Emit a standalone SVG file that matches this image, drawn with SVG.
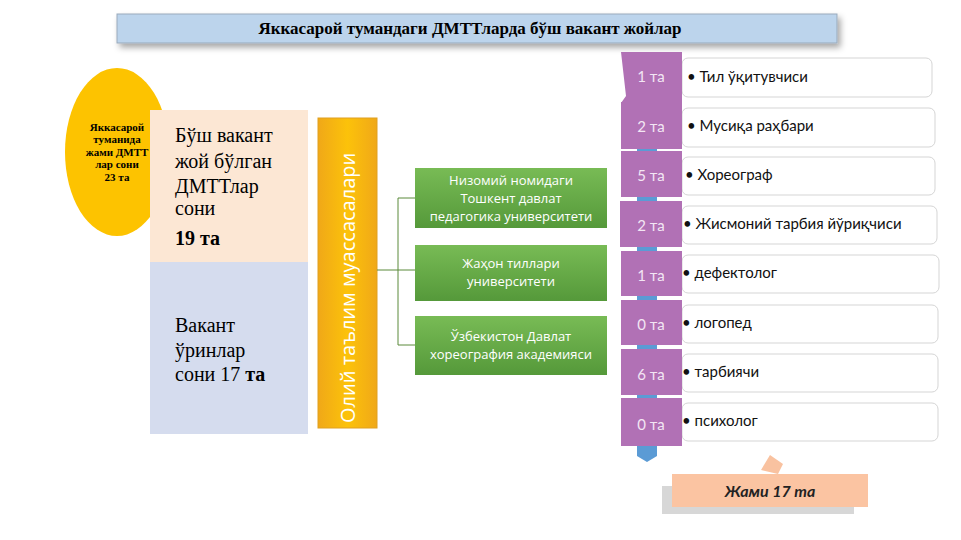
<svg xmlns="http://www.w3.org/2000/svg" width="961" height="540" viewBox="0 0 961 540">
<style>
.c{font-family:"Liberation Serif",serif}
.s{font-family:"Open Sans","Noto Sans",sans-serif}
.pur{fill:#b171b5}
.num{font-family:"Lato","Noto Sans",sans-serif;font-size:15px;fill:#f3e6f4;text-anchor:middle}
.box{fill:#fff;stroke:#d5d5d5;stroke-width:1}
.lbl{font-family:"Lato","Noto Sans",sans-serif;font-size:15px;fill:#111}
.g{fill:#63a744}
.gt{font-family:"Open Sans","Noto Sans",sans-serif;font-size:13px;fill:#fff;text-anchor:middle}
</style>
<defs>
<filter id="sh" x="-10%" y="-20%" width="120%" height="160%"><feDropShadow dx="3" dy="4" stdDeviation="3" flood-color="#000" flood-opacity="0.35"/></filter>
<linearGradient id="ob" x1="0" y1="0" x2="1" y2="0"><stop offset="0" stop-color="#f0a818"/><stop offset="0.5" stop-color="#fcc20a"/><stop offset="1" stop-color="#f0a818"/></linearGradient>
<linearGradient id="gr" x1="0" y1="0" x2="0" y2="1"><stop offset="0" stop-color="#78bb55"/><stop offset="1" stop-color="#55993a"/></linearGradient>
</defs>
<rect width="961" height="540" fill="#fff"/>
<g id="title"><rect x="117" y="14" width="720" height="29" fill="#bcd4ec" stroke="#9ab" filter="url(#sh)"/>
<text x="470" y="34" class="c" font-size="17" font-weight="bold" text-anchor="middle">Яккасарой тумандаги ДМТТларда бўш вакант жойлар</text></g>
<g id="ellipse"><ellipse cx="117" cy="152" rx="52" ry="84" fill="#fdc300"/>
<text class="c" font-size="11" font-weight="bold" text-anchor="middle"><tspan x="117" y="131">Яккасарой</tspan><tspan x="117" y="143">туманида</tspan><tspan x="117" y="156">жами ДМТТ</tspan><tspan x="117" y="168">лар сони</tspan><tspan x="117" y="181">23 та</tspan></text></g>
<g id="busch"><rect x="150" y="110" width="158" height="152" fill="#fce7d4"/>
<text class="c" font-size="20"><tspan x="175" y="142">Бўш вакант</tspan><tspan x="175" y="168">жой бўлган</tspan><tspan x="175" y="193">ДМТТлар</tspan><tspan x="175" y="215">сони</tspan><tspan x="175" y="245" font-weight="bold">19 та</tspan></text></g>
<g id="vakant"><rect x="150" y="262" width="158" height="172" fill="#d5dcee"/>
<text class="c" font-size="20"><tspan x="175" y="332">Вакант</tspan><tspan x="175" y="357">ўринлар</tspan><tspan x="175" y="381">сони 17 <tspan font-weight="bold">та</tspan></tspan></text></g>
<g id="oliy"><rect x="318" y="118" width="59" height="310" fill="url(#ob)" stroke="#e0a020"/>
<text transform="translate(355,423) rotate(-90)" class="s" font-size="20" fill="#fff">Олий таълим муассасалари</text></g>
<g id="connectors" fill="none" stroke="#5a8a3a" stroke-width="1">
<path d="M377 270H398M398 198V345M398 198H415M398 270H415M398 345H415"/></g>
<g id="g1"><rect x="415" y="168" width="192" height="60" fill="url(#gr)"/><text class="gt"><tspan x="511" y="185">Низомий номидаги</tspan><tspan x="511" y="203">Тошкент давлат</tspan><tspan x="511" y="221">педагогика университети</tspan></text></g>
<g id="g2"><rect x="415" y="245" width="192" height="56" fill="url(#gr)"/><text class="gt"><tspan x="511" y="268">Жаҳон тиллари</tspan><tspan x="511" y="286">университети</tspan></text></g>
<g id="g3"><rect x="415" y="316" width="192" height="59" fill="url(#gr)"/><text class="gt"><tspan x="511" y="341">Ўзбекистон Давлат</tspan><tspan x="511" y="359">хореография академияси</tspan></text></g>
<g id="list">
<polygon points="632,52 657,52 657,456 647,462 637,456 637,52" fill="#5b9bd5"/>
<g id="r1"><rect x="682" y="58" width="250" height="39" rx="6" class="box"/><path class="pur" d="M621 52H682V103H621L626 96Z"/><text x="651" y="82" class="num">1 та</text><text x="687" y="82" class="lbl">•  Тил ўқитувчиси</text></g>
<g id="r2"><rect x="682" y="108" width="253" height="39" rx="6" class="box"/><path class="pur" d="M621 102H682V149H621Z"/><text x="651" y="132" class="num">2 та</text><text x="687" y="131" class="lbl">•  Мусиқа раҳбари</text></g>
<g id="r3"><rect x="682" y="157" width="253" height="38" rx="6" class="box"/><path class="pur" d="M621 151H682V197H621Z"/><text x="651" y="181" class="num">5 та</text><text x="685" y="180" class="lbl">•  Хореограф</text></g>
<g id="r4"><rect x="682" y="206" width="255" height="38" rx="6" class="box"/><path class="pur" d="M620 201H682V247H620Z"/><text x="651" y="231" class="num">2 та</text><text x="683" y="229" class="lbl">•  Жисмоний тарбия йўриқчиси</text></g>
<g id="r5"><rect x="682" y="255" width="257" height="38" rx="6" class="box"/><path class="pur" d="M621 251H682V296H621Z"/><text x="651" y="281" class="num">1 та</text><text x="682" y="278" class="lbl">• дефектолог</text></g>
<g id="r6"><rect x="682" y="305" width="256" height="38" rx="6" class="box"/><path class="pur" d="M621 300H682V345H621Z"/><text x="651" y="330" class="num">0 та</text><text x="682" y="328" class="lbl">• логопед</text></g>
<g id="r7"><rect x="682" y="354" width="256" height="38" rx="6" class="box"/><path class="pur" d="M621 349H682V395H621Z"/><text x="651" y="380" class="num">6 та</text><text x="682" y="377" class="lbl">• тарбиячи</text></g>
<g id="r8"><rect x="682" y="403" width="256" height="38" rx="6" class="box"/><path class="pur" d="M621 398H682V446H621Z"/><text x="651" y="430" class="num">0 та</text><text x="682" y="426" class="lbl">• психолог</text></g>
</g>
<g id="total"><rect x="662" y="486" width="192" height="28" fill="#bdbdbd" opacity="0.6"/>
<polygon points="761,470 770,455 783,464 778,474" fill="#f9c2a0"/>
<rect x="672" y="474" width="196" height="33" fill="#fbc4a2"/>
<text x="770" y="497" font-family="Lato,'Noto Sans',sans-serif" font-size="16" font-weight="bold" font-style="italic" text-anchor="middle" fill="#222">Жами 17 та</text></g>
</svg>
